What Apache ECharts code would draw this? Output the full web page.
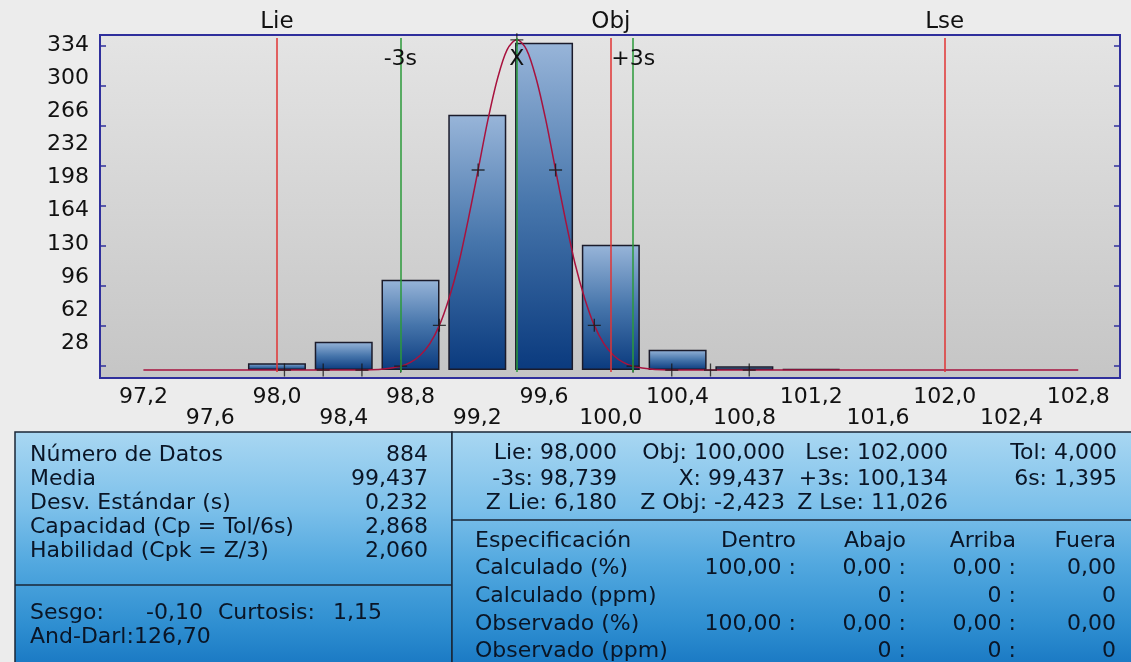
<!DOCTYPE html>
<html><head><meta charset="utf-8">
<script src="https://cdn.jsdelivr.net/npm/echarts@6/dist/echarts.min.js"></script>
<style>html,body{margin:0;padding:0;background:#ececec;}#c{width:1131px;height:662px;}</style>
</head><body><div id="c"></div>
<script>
// ---- data ----
const binCenters = [98.0, 98.4, 98.8, 99.2, 99.6, 100.0, 100.4, 100.8, 101.2];
const binCounts  = [7, 29, 93, 263, 337, 129, 21, 4, 1];
const curveX = [97.2, 98.393, 98.509, 98.625, 98.741, 98.799, 98.857, 98.915, 98.973, 99.031, 99.089, 99.147, 99.205, 99.263, 99.321, 99.379, 99.437, 99.495, 99.553, 99.611, 99.669, 99.727, 99.785, 99.843, 99.901, 99.959, 100.017, 100.075, 100.133, 100.249, 100.365, 100.481, 102.8];
const curveY = [0, 0, 0.1, 0.7, 3.8, 7.8, 15, 27, 46, 74, 110, 156, 206, 257, 300, 330, 340, 330, 300, 257, 206, 156, 110, 74, 46, 27, 15, 7.8, 3.8, 0.7, 0.1, 0, 0];
const markerX = [98.045, 98.277, 98.509, 98.741, 98.973, 99.205, 99.437, 99.669, 99.901, 100.133, 100.365, 100.597, 100.829];
const markerY = [0, 0, 0, 4, 46, 206, 340, 206, 46, 4, 0, 0, 0];
const specNames  = ['Lie', 'Obj', 'Lse'];
const specValues = [98.0, 100.0, 102.0];
const sigmaNames  = ['-3s', 'X', '+3s'];
const sigmaValues = [98.739, 99.437, 100.134];
const xLabelsTop    = [97.2, 98.0, 98.8, 99.6, 100.4, 101.2, 102.0, 102.8];
const xLabelsBottom = [97.6, 98.4, 99.2, 100.0, 100.8, 101.6, 102.4];
const yLabels = [28, 62, 96, 130, 164, 198, 232, 266, 300, 334];
const yTickMarks = [4.4, 45.6, 86.8, 128, 169.2, 210.4, 251.6, 292.8, 334];

// panel texts
const leftLabels = ['Número de Datos', 'Media', 'Desv. Estándar (s)', 'Capacidad (Cp = Tol/6s)', 'Habilidad (Cpk = Z/3)'];
const leftValues = ['884', '99,437', '0,232', '2,868', '2,060'];
const rightTopRows = [
  ['Lie: 98,000', 'Obj: 100,000', 'Lse: 102,000', 'Tol: 4,000'],
  ['-3s: 98,739', 'X: 99,437', '+3s: 100,134', '6s: 1,395'],
  ['Z Lie: 6,180', 'Z Obj: -2,423', 'Z Lse: 11,026', '']
];
const specRowLabels = ['Especificación', 'Calculado (%)', 'Calculado (ppm)', 'Observado (%)', 'Observado (ppm)'];
const specRowCells = [
  ['Dentro', 'Abajo', 'Arriba', 'Fuera'],
  ['100,00 :', '0,00 :', '0,00 :', '0,00'],
  ['', '0 :', '0 :', '0'],
  ['100,00 :', '0,00 :', '0,00 :', '0,00'],
  ['', '0 :', '0 :', '0']
];

// ---- chart ----
const X_MIN = 96.94, X_MAX = 103.05, Y_MIN = -8.2, Y_MAX = 345;
const FONT = '"DejaVu Sans", Verdana, sans-serif';
const fmt = v => v.toFixed(1).replace('.', ',');
const chart = echarts.init(document.getElementById('c'));
const G = echarts.graphic;

const xAxisBase = {
  type: 'value', min: X_MIN, max: X_MAX, position: 'bottom', offset: 0,
  axisLine: { show: false }, axisTick: { show: false }, splitLine: { show: false }
};

const panelFill = () => new G.LinearGradient(0, 0, 0, 1, [
  { offset: 0, color: '#a9d7f2' },
  { offset: 0.32, color: '#7cc0ea' },
  { offset: 0.55, color: '#52a8df' },
  { offset: 0.8, color: '#2f8fd1' },
  { offset: 1, color: '#1675c1' }
]);
const txt = (s, x, y, align) => ({
  type: 'text', z: 10,
  style: { text: s, x: x, y: y, align: align, verticalAlign: 'middle', font: '22px ' + FONT, fill: '#0a1526' }
});

const graphics = [
  { type: 'rect', z: 5, shape: { x: 15, y: 432, width: 437, height: 240 }, style: { fill: panelFill(), stroke: '#1a2636', lineWidth: 1.5 } },
  { type: 'rect', z: 5, shape: { x: 452, y: 432, width: 690, height: 240 }, style: { fill: panelFill(), stroke: '#1a2636', lineWidth: 1.5 } },
  { type: 'line', z: 6, shape: { x1: 15, y1: 585, x2: 452, y2: 585 }, style: { stroke: '#1a2636', lineWidth: 1.5 } },
  { type: 'line', z: 6, shape: { x1: 452, y1: 520, x2: 1131, y2: 520 }, style: { stroke: '#1a2636', lineWidth: 1.5 } }
];
const leftRowsY = [455, 479, 503, 527, 551];
leftLabels.forEach((s, i) => {
  graphics.push(txt(s, 30, leftRowsY[i], 'left'));
  graphics.push(txt(leftValues[i], 428, leftRowsY[i], 'right'));
});
graphics.push(txt('Sesgo:', 30, 613, 'left'));
graphics.push(txt('-0,10', 203, 613, 'right'));
graphics.push(txt('Curtosis:', 218, 613, 'left'));
graphics.push(txt('1,15', 333, 613, 'left'));
graphics.push(txt('And-Darl:126,70', 30, 637, 'left'));

const rtY = [453, 479, 503], rtX = [617, 785, 948, 1117];
rightTopRows.forEach((row, r) => row.forEach((s, c) => { if (s) graphics.push(txt(s, rtX[c], rtY[r], 'right')); }));
const spY = [541, 568, 596, 624, 651], spX = [796, 906, 1016, 1116];
specRowLabels.forEach((s, r) => {
  graphics.push(txt(s, 475, spY[r], 'left'));
  specRowCells[r].forEach((c, j) => { if (c) graphics.push(txt(c, spX[j], spY[r], 'right')); });
});

const redC = '#e03434', greenC = '#2b9a3a';
const markData = [];
specValues.forEach((v, i) => markData.push([
  { coord: [v, -2], lineStyle: { color: redC, width: 1.5, type: 'solid' },
    label: { show: true, position: 'end', distance: 4, formatter: specNames[i], fontFamily: FONT, fontSize: 23, color: '#111' } },
  { coord: [v, 342] }
]));
sigmaValues.forEach((v) => markData.push([
  { coord: [v, -2], lineStyle: { color: greenC, width: 1.5, type: 'solid' }, label: { show: false } },
  { coord: [v, 342] }
]));

chart.setOption({
  animation: false,
  backgroundColor: '#ececec',
  grid: {
    left: 100, right: 11, top: 35, bottom: 284, show: true,
    borderColor: '#2f2f9c', borderWidth: 2,
    backgroundColor: new G.LinearGradient(0, 0, 0, 1, [
      { offset: 0, color: '#e4e4e4' }, { offset: 1, color: '#c5c5c5' }
    ])
  },
  xAxis: [
    Object.assign({}, xAxisBase, { axisLabel: { customValues: xLabelsTop, formatter: fmt, margin: 8, fontFamily: FONT, fontSize: 22, color: '#111' } }),
    Object.assign({}, xAxisBase, { axisLabel: { customValues: xLabelsBottom, formatter: fmt, margin: 29, fontFamily: FONT, fontSize: 22, color: '#111' } })
  ],
  yAxis: [
    { type: 'value', min: Y_MIN, max: Y_MAX, position: 'left',
      axisLine: { show: false }, splitLine: { show: false },
      axisTick: { show: true, inside: true, length: 6, customValues: yTickMarks, lineStyle: { color: '#2f2f9c', width: 1.5 } },
      axisLabel: { customValues: yLabels, margin: 11, fontFamily: FONT, fontSize: 22, color: '#111' } },
    { type: 'value', min: Y_MIN, max: Y_MAX, position: 'right',
      axisLine: { show: false }, splitLine: { show: false }, axisLabel: { show: false },
      axisTick: { show: true, inside: true, length: 6, customValues: yTickMarks, lineStyle: { color: '#2f2f9c', width: 1.5 } } }
  ],
  series: [
    { type: 'bar', xAxisIndex: 0, yAxisIndex: 0, barWidth: 58, z: 2,
      data: binCenters.map((c, i) => [c, binCounts[i]]),
      itemStyle: {
        color: new G.LinearGradient(0, 0, 0, 1, [
          { offset: 0, color: '#98b5d9' }, { offset: 0.5, color: '#4675ab' }, { offset: 1, color: '#0a3a7e' }
        ]),
        borderColor: '#1b1b2b', borderWidth: 1.5
      } },
    { type: 'line', xAxisIndex: 0, yAxisIndex: 0, z: 3, smooth: 0.3, symbol: 'none',
      data: curveX.map((x, i) => [x, curveY[i]]),
      lineStyle: { color: '#a8123e', width: 1.5 },
      markLine: { silent: true, symbol: ['none', 'none'], data: markData } },
    { type: 'scatter', xAxisIndex: 0, yAxisIndex: 0, z: 4,
      symbol: 'path://M4.5,0h1v4.5h4.5v1h-4.5v4.5h-1v-4.5h-4.5v-1h4.5z', symbolSize: 13,
      itemStyle: { color: '#151515' },
      data: markerX.map((x, i) => [x, markerY[i]]) },
    { type: 'scatter', xAxisIndex: 0, yAxisIndex: 0, z: 5, symbolSize: 0, itemStyle: { color: '#111' },
      label: { show: true, position: 'inside', formatter: p => sigmaNames[p.dataIndex], fontFamily: FONT, fontSize: 22,
               color: '#111', opacity: 1, textBorderWidth: 0 },
      emphasis: { disabled: true },
      data: sigmaValues.map(v => [v, 320]) }
  ],
  graphic: graphics
});
</script></body></html>
